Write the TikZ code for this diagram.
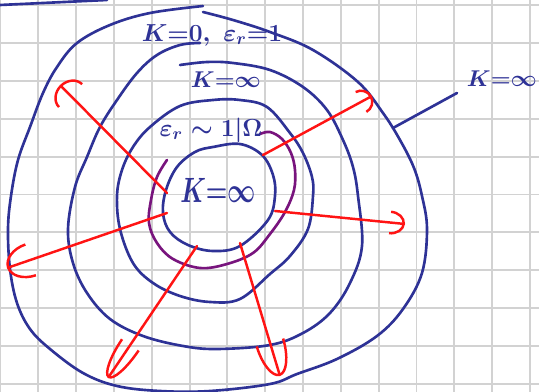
\RequirePackage{fix-cm}
\documentclass[tikz,border=0pt]{standalone}
\usetikzlibrary{arrows.meta}
\definecolor{inkblue}{RGB}{46,50,150}
\definecolor{inkred}{RGB}{255,20,20}
\definecolor{inkpurple}{RGB}{120,20,125}
\tikzset{
  pen/.style={draw=inkblue, line width=1.5pt},
  purplepen/.style={draw=inkpurple, line width=1.5pt},
  fieldline/.style={draw=inkred, line width=1.4pt},
  fieldtip/.style 2 args={-{Arc Barb[length=#1, width=#2]}},
  hand/.style={text=inkblue, inner sep=1pt},
}
\begin{document}
\begin{tikzpicture}[x=0.02cm, y=-0.02cm, line cap=round, line join=round]
\useasboundingbox (0,0) rectangle (539,392);
\fill[white] (0,0) rectangle (539,392);
% squared paper
\foreach \k in {0,...,14}
  \draw[gray!35, line width=1.1pt] ({0.5+37.82*\k},0) -- ({0.5+37.82*\k},392);
\foreach \k in {0,...,10}
  \draw[gray!35, line width=1.1pt] (0,{5+37.9*\k}) -- (539,{5+37.9*\k});
\draw[pen] (0,5) -- (107,0);
% outer shell
\draw[pen] plot[smooth, tension=0.6] coordinates {(203,6) (150,13) (110,25) (77,43) (57,67) (43,93) (30,127) (18,160) (11,196) (8,229) (10,269) (17,303) (30,329) (50,349) (83,373) (117,386) (160,391) (210,391) (270,384) (297,374) (337,359) (377,336) (403,309) (422,273) (427,229) (422,196) (414,168) (400,140) (383,113) (358,82) (313,50) (270,32) (233,20) (203,12)};
% vacuum gap
\draw[pen] plot[smooth, tension=0.6] coordinates {(200,43) (180,45) (157,55) (137,73) (117,100) (100,127) (87,157) (75,187) (68,229) (73,263) (87,293) (110,319) (143,336) (183,346) (217,349) (270,345) (303,333) (330,313) (350,283) (362,246) (358,196) (353,167) (343,140) (327,110) (303,87) (270,70) (233,63) (207,62) (180,65)};
% dielectric
\draw[pen] plot[smooth cycle, tension=0.6] coordinates {(180,106) (213,100) (240,100) (267,107) (290,133) (303,153) (312,177) (313,196) (308,229) (290,256) (270,274) (240,299) (210,302) (180,296) (153,283) (133,263) (120,229) (117,196) (122,170) (133,147) (150,127)};
% core
\draw[pen] plot[smooth cycle, tension=0.6] coordinates {(213,147) (240,144) (262,155) (273,175) (275,196) (268,220) (240,246) (213,251) (188,245) (170,232) (163,213) (166,190) (177,167) (195,152)};
\draw[purplepen] plot[smooth, tension=0.6] coordinates {(167,160) (157,177) (151,200) (149,223) (157,243) (173,259) (200,268) (227,264) (253,253) (270,234) (285,212) (294,190) (295,170) (291,153) (282,139) (270,132) (260,134)};
% labels
\node[hand, font=\fontsize{14}{17}\selectfont\boldmath] (ktop) at (212,35) {$K{=}0,\ \varepsilon_r{=}1$};
\node[hand, font=\fontsize{13}{16}\selectfont\boldmath] (kmid) at (226,80) {$K{=}\infty$};
\node[hand, font=\fontsize{14}{17}\selectfont\boldmath] (eps) at (211,130) {$\varepsilon_r\sim 1|\Omega$};
\node[hand] (kin) at (218,190) {\scalebox{0.7}[1]{\fontsize{20}{24}\selectfont\boldmath$K{=}\infty$}};
\node[hand, font=\fontsize{13}{16}\selectfont\boldmath] (kout) at (502,79) {$K{=}\infty$};
\coordinate (rim) at (393,128);
\coordinate (lead) at (457,93);
\draw[pen] (rim) -- (lead);
% field lines
\coordinate (s1) at (167,193); \coordinate (e1) at (60,85);
\coordinate (s2) at (263,155); \coordinate (e2) at (372,96);
\coordinate (s3) at (275,211); \coordinate (e3) at (405,224);
\coordinate (s4) at (240,243); \coordinate (e4) at (280,376);
\coordinate (s5) at (197,246); \coordinate (e5) at (108,378);
\coordinate (s6) at (167,213); \coordinate (e6) at (7,268);
\draw[fieldline, fieldtip={3mm}{7mm}] (s1) -- (e1);
\draw[fieldline, fieldtip={2.5mm}{5mm}] (s2) -- (e2);
\draw[fieldline, fieldtip={3mm}{4.8mm}] (s3) -- (e3);
\draw[fieldline, fieldtip={7mm}{6mm}] (s4) -- (e4);
\draw[fieldline, fieldtip={8mm}{4.5mm}] (s5) -- (e5);
\draw[fieldline, fieldtip={5mm}{7mm}] (s6) -- (e6);
\end{tikzpicture}
\end{document}
